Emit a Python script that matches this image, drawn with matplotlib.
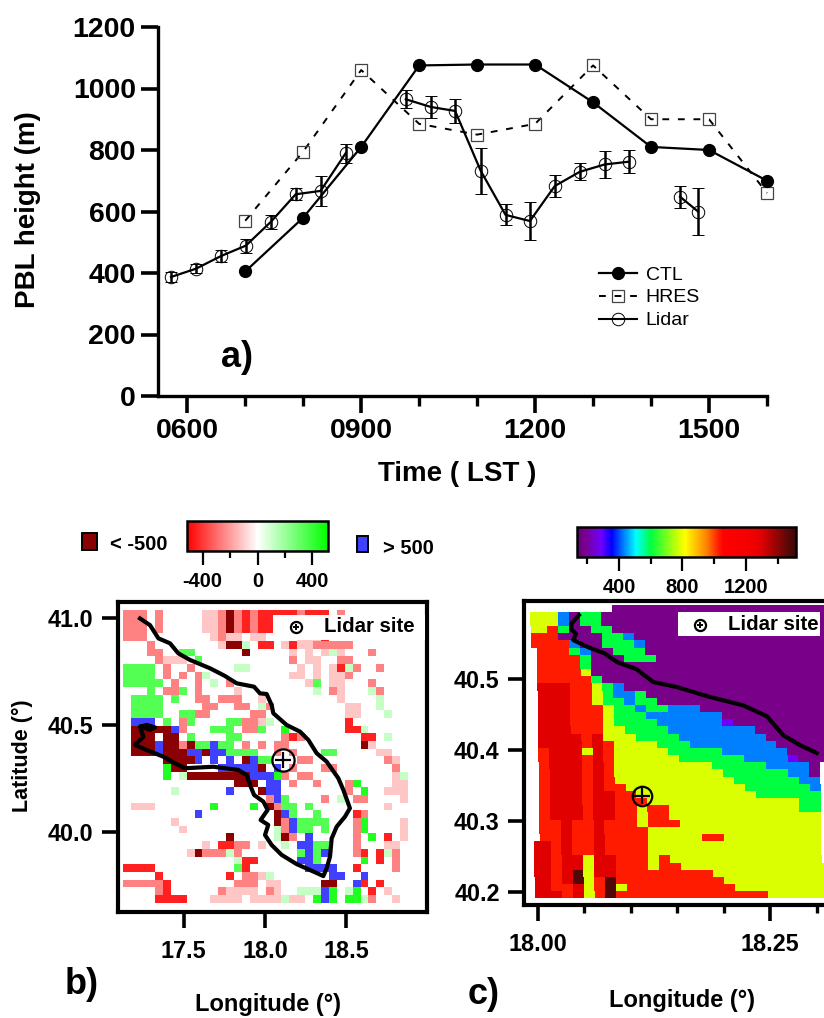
import numpy as np
import matplotlib
matplotlib.use("Agg")
import matplotlib.pyplot as plt
from matplotlib.colors import LinearSegmentedColormap, Normalize
from matplotlib.patches import Rectangle

plt.rcParams['font.family'] = ['Liberation Sans', 'DejaVu Sans']
plt.rcParams['font.weight'] = 'bold'
plt.rcParams['axes.unicode_minus'] = False

# ---- a) PBL height
nan = np.nan
ctl_time = [7, 8, 9, 10, 11, 12, 13, 14, 15, 16]
ctl_pbl  = [405, 580, 810, 1075, 1078, 1078, 955, 810, 800, 700]
hres_time = [7, 8, 9, 10, 11, 12, 13, 14, 15, 16]
hres_pbl  = [570, 795, 1060, 885, 850, 885, 1075, 900, 900, 660]
lidar_time = [5.72, 6.15, 6.58, 7.01, 7.44, 7.87, 8.30, 8.73, 9.25, 9.77, 10.20, 10.62, 11.06,
              11.49, 11.91, 12.34, 12.77, 13.20, 13.62, 14.06, 14.50, 14.81]
lidar_pbl  = [387, 414, 455, 489, 566, 656, 667, 789, nan, 965, 940, 927, 733,
              589, 569, 683, 729, 753, 762, nan, 648, 600]
lidar_err  = [15, 15, 20, 23, 23, 20, 50, 30, nan, 30, 36, 38, 75,
              34, 62, 37, 28, 45, 38, nan, 35, 78]

# ---- b) difference map, one string per row, north to south
diff_values = {'.': 0, 'l': -115, 'p': -250, 'r': -450, 'd': -600,
               'h': 115, 'g': 345, 'G': 450, 'b': 600}
diff_rows = [
    "ppp.p.....llpdprprrrrrprrr.p",
    "ppp.p.....llpdprprrrrr",
    "ppp.p.....llpdprprrrrr",
    "ppp........lpll.ll....lllr",
    "...p........lddh.rr.lrllppppp",
    "...pp..gg......d.....l.l.lhl...p",
    "....plll.g...........p.ll..pp",
    "gggg.p..p.....hh......l.l.lrhp..p",
    "gggg.p.p.ph..........ll.l.llp",
    "ggggg.p..p.h.p.........lg.ll...p",
    "...g.ppg.p....l.........h.pl...hp",
    ".gggg.g..pp.ppp..l.........l....h",
    ".gggg.....pp..pp.hp.........ll..h",
    ".gggg..ggpp.....pp..........ll...h",
    ".bbb.g.pg....ggpplh.........r",
    ".dddddbp...ggg.ppg..G.......rrh",
    ".ddd.dd.g....gg.....prp.......rr.h",
    ".dddbddpdggbgg.p.p.pp.........dl",
    ".dddbdddbbdbbgggg..p.p...gg.....ll",
    ".....ddddb.b.b.dbgg...pp.........pl",
    ".....Gdd....bbbbbd.b.p...pp.......p",
    ".....G.hddddddddbbbGp.pp..........lh",
    "..............ddd.bb.p..p...pG....ll",
    "......h......b...dbb........p.G..lll",
    "..................pbg....p.h.pp....l",
    ".lll.......G....G.dpgg.g.........l",
    ".........b.........dbg..g....rp",
    "......l............dpbgggg...pG....l",
    ".......l...........hpbgg.g...pG....l",
    ".............d.....hdp.b.....p.G.r.l",
    "..........l.rrpp.l..h.bbgg...p...ll",
    "........ldppphp.......gbgb...pr.rhp",
    "..............hrr.....bbg.....G.r.p",
    "rrrr..........gr.......bbbb..r....p",
    "....r........r.pplh.......bb..b",
    "pppppr........ppp.ll.....dd..br.r",
    "....pr......pllll.pl..hhhbG.hG.r.l",
    "....rrrr...llll.llllhll.GbG.GGhp..l",
]
coast_b_lon = [17.233, 17.294, 17.346, 17.417, 17.468, 17.540, 17.663, 17.755, 17.826, 17.933,
               17.969, 18.010, 18.041, 18.051, 18.133, 18.215, 18.266, 18.317, 18.378, 18.450,
               18.481, 18.521, 18.491, 18.440, 18.409, 18.399, 18.378, 18.358, 18.297, 18.194,
               18.102, 18.041, 18.000, 18.020, 17.973, 18.016, 17.990, 17.933, 17.912, 17.888,
               17.836, 17.683, 17.509, 17.448, 17.376, 17.274, 17.202, 17.254, 17.233, 17.274,
               17.325, 17.294, 17.243]
coast_b_lat = [40.998, 40.967, 40.905, 40.882, 40.835, 40.804, 40.765, 40.729, 40.695, 40.679,
               40.648, 40.645, 40.593, 40.555, 40.500, 40.469, 40.430, 40.368, 40.329, 40.251,
               40.196, 40.111, 40.072, 40.025, 39.970, 39.885, 39.830, 39.794, 39.815, 39.850,
               39.893, 39.939, 39.986, 40.033, 40.056, 40.103, 40.142, 40.173, 40.212, 40.266,
               40.290, 40.305, 40.298, 40.321, 40.352, 40.383, 40.407, 40.445, 40.492, 40.500,
               40.489, 40.477, 40.492]

# ---- c) PBL height map, runs of classes per row, north to south
height_values = {'P': 180, 'V': 285, 'B': 430, 'G': 600, 'Y': 780, 'R': 1030, 'D': 1300, 'K': 1480}
height_rows = [
    ".8 P20",
    "Y3 B1 P1 G2 P21",
    "Y3 B1 P1 G2 P21",
    "Y2 R1 G1 P2 G2 P20",
    "R3 P4 G2 B1 P18",
    "R4 B1 P2 G3 B1 P17",
    ".1 R3 G1 B1 P2 G3 P17",
    ".1 R4 G1 P3 G3 P16",
    ".1 R4 G1 P22",
    ".1 R4 Y1 P22",
    ".1 R5 G1 P21",
    ".1 D3 R2 Y1 G1 B1 P19",
    ".1 D3 R2 Y1 G1 B2 G1 P17",
    ".1 D3 R2 Y1 G2 B1 G2 P16",
    ".1 D3 R3 Y1 G2 B1 G2 B3 P12",
    ".1 D3 R3 Y1 G3 B7 P10",
    ".1 D3 R3 Y1 G4 B6 V1 P9",
    ".1 D3 R3 Y2 G4 B8 P7",
    ".1 D4 R1 D1 Y3 G4 B8 P6",
    ".1 D4 R1 D1 R1 Y4 G3 B8 P5",
    ".1 R1 D3 Y1 D1 R1 Y5 G5 B6 P4",
    ".1 R1 D3 R1 D1 R1 Y6 G6 B4 V1 P3",
    ".1 R1 D3 R1 D1 R1 Y9 G5 B4 P1 .1",
    ".1 R1 D3 R1 D1 R1 Y10 G6 B2 P1 .1",
    ".1 R1 D3 R1 D1 R1 Y11 G6 B2 .1",
    ".1 R1 D3 R1 D1 R2 Y11 G6 B1 .1",
    ".1 R1 D3 R1 D2 R2 Y11 G6 .1",
    ".1 R1 D3 R1 D2 R3 Y14 G2 .1",
    ".1 R1 D3 R1 D2 R2 Y1 R2 Y12 G2 .1",
    ".1 R1 D3 R1 D2 R2 Y1 R2 Y14 .1",
    ".1 R2 D1 R2 D1 R3 Y1 R3 Y13 .1",
    ".1 R2 D1 R2 D1 R4 Y16 .1",
    ".1 R2 D1 R2 D1 R4 Y5 R2 Y9 .1",
    "D2 R1 D1 R2 D1 R4 Y16 .1",
    "D2 R1 D1 R2 D1 R4 Y16 .1",
    "D2 R1 D2 Y1 D2 R3 Y1 R1 Y14 .1",
    "D2 R1 D2 Y1 D2 R3 Y1 R2 Y14",
    "D2 R1 D1 K1 Y1 D2 R9 Y11",
    "D2 R1 D1 K1 Y1 R1 K1 R10 Y10",
    "D2 R2 D1 Y1 R1 K1 Y1 R10 Y9",
    "D3 R1 D1 Y1 R1 K1 R14 Y6",
]
coast_c_lon = [18.044, 18.036, 18.036, 18.041, 18.038, 18.054, 18.072, 18.085, 18.106,
               18.124, 18.149, 18.182, 18.221, 18.246, 18.264, 18.282, 18.300]
coast_c_lat = [40.590, 40.578, 40.570, 40.564, 40.555, 40.545, 40.536, 40.524, 40.514,
               40.496, 40.489, 40.476, 40.463, 40.448, 40.421, 40.407, 40.396]

site_lon, site_lat = 18.112, 40.336


def box(x0, y0, x1, y1):            # pixels of the 824x1018 picture -> figure fractions
    return [x0 / 824, 1 - y1 / 1018, (x1 - x0) / 824, (y1 - y0) / 1018]


def ftext(x, y, s, **kw):
    fig.text(x / 824, 1 - y / 1018, s, ha=kw.pop('ha', 'center'), va=kw.pop('va', 'center'), **kw)


def site_key(ax, x_box, y_box, x_mark, x_text, y_mark, y_text):
    tr = fig.transFigure
    ax.add_patch(Rectangle((x_box[0] / 824, 1 - y_box[1] / 1018), (x_box[1] - x_box[0]) / 824,
                           (y_box[1] - y_box[0]) / 1018, transform=tr, color='white', lw=0, zorder=5))
    ax.plot([x_mark / 824], [1 - y_mark / 1018], 'o', ms=8, mfc='none', mec='k', mew=1.6, transform=tr, zorder=6)
    ax.plot([x_mark / 824], [1 - y_mark / 1018], '+', ms=5, mec='k', mew=1.4, transform=tr, zorder=6)
    ax.text(x_text / 824, 1 - y_text / 1018, 'Lidar site', fontsize=14.7, transform=tr, zorder=6,
            ha='left', va='center')


fig = plt.figure(figsize=(8.24, 10.18), dpi=100)

# ---- a)
ax = fig.add_axes(box(158, 27, 767, 396))
ax.plot(ctl_time, ctl_pbl, '-o', color='k', lw=1.6, ms=8.5, label='CTL', clip_on=False, zorder=4)
ax.plot(hres_time, hres_pbl, '--s', color='k', lw=1.4, ms=9, mfc='none', mec='#444444', mew=0.9,
        dashes=(3.5, 4.5), label='HRES', clip_on=False, zorder=3)
ax.errorbar(lidar_time, lidar_pbl, yerr=lidar_err, fmt='-o', color='k', lw=1.6, ms=9, mfc='none',
            mew=0.7, elinewidth=1.8, capsize=4.6, capthick=1.6, zorder=3)
ax.plot([], [], '-o', color='k', lw=1.5, ms=9, mfc='none', mew=0.7, label='Lidar')
ax.set_xlim(5.495, 16)
ax.set_ylim(0, 1200)
ax.set_xticks([6, 9, 12, 15])
ax.set_xticklabels(['0600', '0900', '1200', '1500'])
ax.set_xticks([7, 8, 10, 11, 13, 14, 16], minor=True)
ax.set_yticks(np.arange(0, 1201, 200))
ax.spines[['top', 'right']].set_visible(False)
ax.spines[['left', 'bottom']].set_linewidth(2.4)
ax.tick_params(axis='both', which='major', length=12, width=2.6, labelsize=20.5, pad=4)
ax.tick_params(axis='x', which='minor', length=7, width=2.4)
ax.legend(loc='upper left', bbox_to_anchor=(599 / 824, 1 - 266 / 1018), bbox_transform=fig.transFigure,
          frameon=False, prop={'weight': 'normal', 'size': 14}, borderpad=0, borderaxespad=0,
          handlelength=1.95, handletextpad=0.45, labelspacing=0.27)
ftext(457, 474, 'Time ( LST )', fontsize=20)
ftext(28, 210, 'PBL height (m)', fontsize=20, rotation=90)
ftext(237, 358, 'a)', fontsize=26)

# ---- b)
diff = np.array([[diff_values[c] for c in row.ljust(36, '.')[:36]] for row in diff_rows], dtype=float)
lon_edges = 17.131 + 0.0485 * np.arange(diff.shape[1] + 1)
lat_edges = 41.037 - 0.036 * np.arange(diff.shape[0] + 1)
cmap_diff = LinearSegmentedColormap.from_list('rwg', ['#ff0000', '#ffffff', '#00ff00'], N=256)
cmap_diff.set_under('#8b0000')
cmap_diff.set_over('#4040ff')
norm_diff = Normalize(-515, 515)

ax = fig.add_axes(box(118, 602, 427, 912))
mesh = ax.pcolormesh(lon_edges, lat_edges, diff, cmap=cmap_diff, norm=norm_diff)
ax.plot(coast_b_lon, coast_b_lat, color='k', lw=3)
ax.plot(site_lon, site_lat, 'o', ms=16, mfc='none', mec='k', mew=1.6)
ax.plot(site_lon, site_lat, '+', ms=11, mec='k', mew=1.6)
ax.set_xlim(17.098, 18.994)
ax.set_ylim(39.626, 41.075)
ax.set_xticks([17.5, 18.0, 18.5])
ax.set_yticks([40.0, 40.5, 41.0])
ax.xaxis.set_major_formatter('{x:.1f}')
ax.yaxis.set_major_formatter('{x:.1f}')
for s in ax.spines.values():
    s.set_linewidth(3)
ax.tick_params(axis='both', length=11.5, width=2.6, labelsize=16.8, pad=6)
ax.tick_params(axis='x', pad=9)
site_key(ax, (273, 425), (615, 640), 296, 324, 627, 627)
ftext(22, 756, 'Latitude (°)', fontsize=15.5, rotation=90)
ftext(268, 1004, 'Longitude (°)', fontsize=17)
ftext(82, 985, 'b)', fontsize=26)

# colour key of b)
cax = fig.add_axes(box(187, 521, 328, 551))
cb = fig.colorbar(mesh, cax=cax, orientation='horizontal', extend='neither')
cb.set_ticks([-400, 0, 400])
cb.set_ticks([-200, 200], minor=True)
cb.outline.set_linewidth(1.8)
cax.tick_params(axis='x', which='major', length=10, width=1.6, labelsize=14.5, pad=5)
cax.tick_params(axis='x', which='minor', length=5, width=1.6)
for color, x0, x1, y0, y1 in [('#8b0000', 82, 97, 533, 550), ('#4040ff', 357, 368, 536, 552)]:
    fig.add_artist(Rectangle((x0 / 824, 1 - y1 / 1018), (x1 - x0) / 824, (y1 - y0) / 1018,
                             transform=fig.transFigure, fc=color, ec='k', lw=1.4))
ftext(110, 545, '< -500', fontsize=14.5, ha='left')
ftext(383, 548, '> 500', fontsize=14.5, ha='left')

# ---- c)
height = np.full((len(height_rows), 28), np.nan)
for i, row in enumerate(height_rows):
    k = 0
    for run in row.split():
        n = int(run[1:])
        if run[0] != '.':
            height[i, k:k + n] = height_values[run[0]]
        k += n

nrow, ncol = height.shape
lat_c = 40.605 - 0.01009 * np.arange(nrow + 1)
skew = 0.00453 * np.arange(nrow + 1) / nrow
X = np.zeros((nrow + 1, ncol + 1))
for k in range(ncol + 1):
    X[:, k] = 17.9866 + 0.01165 * k + skew
X[:, 0] = 17.9917 + 0.005 * np.arange(nrow + 1) / nrow
X[:, -1] = 18.308
Y = np.repeat(lat_c[:, None], ncol + 1, axis=1)

stops = [(135, '#600080'), (180, '#7a0088'), (285, '#7000ff'), (354, '#0000ff'), (430, '#0080ff'),
         (507, '#00ffff'), (600, '#00ff40'), (780, '#d8ff00'), (817, '#ffff00'), (954, '#ff8000'),
         (1030, '#ff1a00'), (1060, '#ff0000'), (1250, '#f00000'), (1300, '#e00000'), (1480, '#500808'),
         (1516, '#400404')]
vmin, vmax = stops[0][0], stops[-1][0]
cmap_h = LinearSegmentedColormap.from_list('pbl', [((v - vmin) / (vmax - vmin), c) for v, c in stops], N=512)
norm_h = Normalize(vmin, vmax)

ax = fig.add_axes(box(524, 601, 827, 905))
mesh = ax.pcolormesh(X, Y, np.ma.masked_invalid(height), cmap=cmap_h, norm=norm_h)
ax.plot(coast_c_lon, coast_c_lat, color='k', lw=3)
ax.plot(site_lon, site_lat, 'o', ms=14, mfc='none', mec='k', mew=1.6)
ax.plot(site_lon, site_lat, '+', ms=11, mec='k', mew=1.6)
ax.set_xlim(17.985, 18.311)
ax.set_ylim(40.182, 40.61)
ax.set_xticks([18.0, 18.25])
ax.set_xticklabels(['18.00', '18.25'])
ax.set_xticks([18.05, 18.1, 18.15, 18.2, 18.3], minor=True)
ax.set_yticks([40.2, 40.3, 40.4, 40.5])
ax.yaxis.set_major_formatter('{x:.1f}')
for s in ax.spines.values():
    s.set_linewidth(3)
ax.tick_params(axis='both', which='major', length=11.5, width=2.6, labelsize=16.8, pad=6)
ax.tick_params(axis='x', which='major', pad=9)
ax.tick_params(axis='x', which='minor', length=6, width=2.4)
site_key(ax, (678, 820), (612, 636), 700, 728, 625, 624)
ftext(682, 1000, 'Longitude (°)', fontsize=17)
ftext(484, 995, 'c)', fontsize=26)

# colour key of c)
cax = fig.add_axes(box(577, 527, 796, 557))
cb = fig.colorbar(mesh, cax=cax, orientation='horizontal')
cb.set_ticks([400, 800, 1200])
cb.set_ticks([200, 600, 1000, 1400], minor=True)
cb.outline.set_linewidth(1.8)
cax.tick_params(axis='x', which='major', length=10, width=1.6, labelsize=14.5, pad=5)
cax.tick_params(axis='x', which='minor', length=5, width=1.6)

fig.savefig('out.png', dpi=100)
